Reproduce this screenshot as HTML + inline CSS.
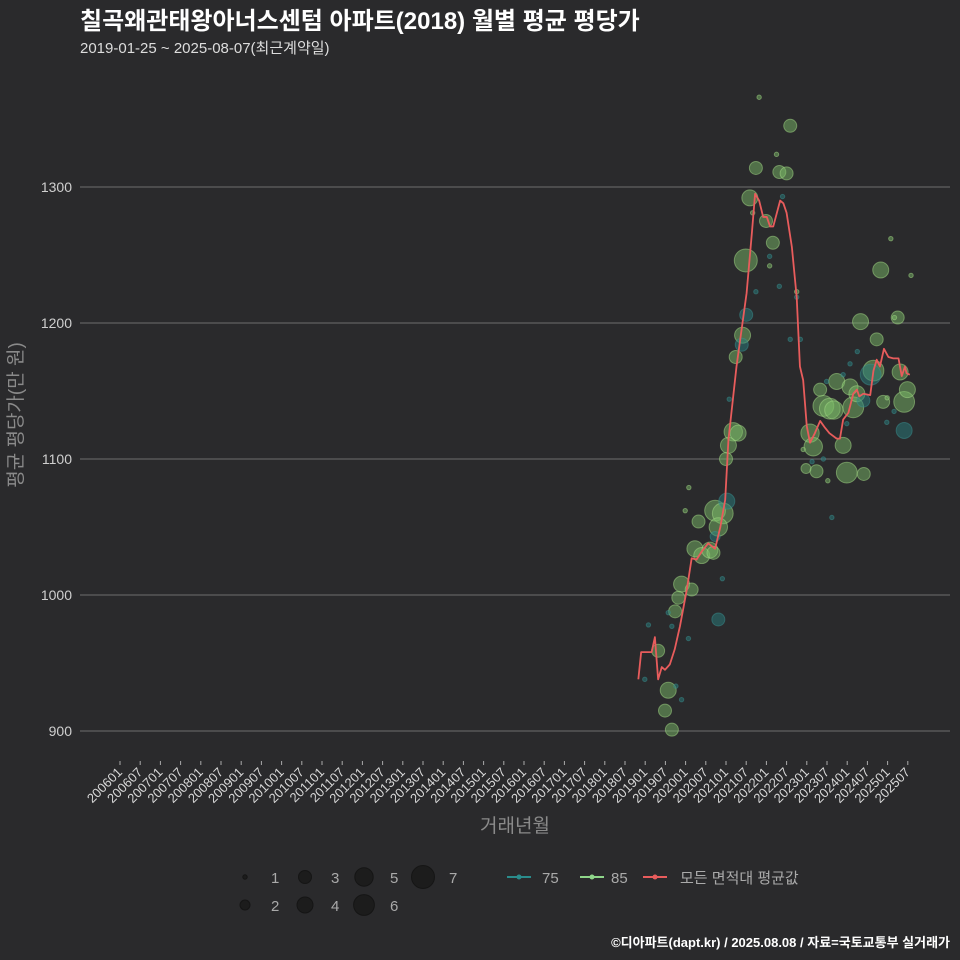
<!DOCTYPE html>
<html><head><meta charset="utf-8">
<style>
html,body{margin:0;padding:0;background:#2a2a2c;}
svg{display:block;font-family:"Liberation Sans","Noto Sans CJK KR",sans-serif;}
</style></head>
<body>
<svg id="chart" width="960" height="960" viewBox="0 0 960 960" xmlns="http://www.w3.org/2000/svg">
<rect width="960" height="960" fill="#2a2a2c"/>
<text x="80" y="29" fill="#fff" font-size="24" font-weight="bold">칠곡왜관태왕아너스센텀 아파트(2018) 월별 평균 평당가</text>
<text x="80" y="53" fill="#ddd" font-size="15">2019-01-25 ~ 2025-08-07(최근계약일)</text>
<g id="grid"></g>
<g id="xaxis"></g>
<g id="bubbles"></g>
<g id="line"></g>
<text transform="translate(22,415) rotate(-90)" text-anchor="middle" fill="#8a8a8a" font-size="19">평균 평당가(만 원)</text>
<text x="515" y="832" text-anchor="middle" fill="#8a8a8a" font-size="19">거래년월</text>
<g id="legend"></g>
<text x="950" y="947" text-anchor="end" fill="#fff" font-size="13" font-weight="bold">©디아파트(dapt.kr) / 2025.08.08 / 자료=국토교통부 실거래가</text>
</svg>
<script>
const yTicks=[900,1000,1100,1200,1300];
const lineYears=[2018.83,2018.90,2019.16,2019.24,2019.32,2019.41,2019.49,2019.61,2019.73,2019.86,2020.03,2020.15,2020.27,2020.40,2020.56,2020.73,2020.86,2020.98,2021.06,2021.26,2021.51,2021.64,2021.72,2021.82,2021.92,2022.01,2022.09,2022.17,2022.34,2022.42,2022.50,2022.63,2022.75,2022.83,2022.91,2023.00,2023.08,2023.20,2023.33,2023.45,2023.56,2023.74,2023.82,2023.90,2024.03,2024.15,2024.24,2024.30,2024.40,2024.57,2024.65,2024.73,2024.81,2024.91,2025.02,2025.14,2025.27,2025.35,2025.43,2025.47,2025.55];
const lineValues=[938,958,958,969,938,947,945,949,960,977,1004,1027,1026,1032,1038,1034,1050,1070,1114,1168,1222,1266,1295,1290,1278,1278,1271,1271,1290,1288,1281,1256,1219,1168,1158,1124,1112,1119,1128,1123,1119,1115,1115,1129,1134,1148,1151,1146,1148,1147,1165,1173,1168,1181,1175,1174,1174,1161,1168,1163,1162];
const bubbleYears=[2019.57,2019.49,2019.66,2019.32,2018.99,2019.08,2019.76,2019.90,2020.07,2019.66,2019.74,2019.82,2019.90,2020.15,2019.57,2020.81,2020.91,2020.23,2020.40,2020.60,2020.69,2020.32,2020.81,2020.73,2020.92,2021.02,2020.73,2019.99,2020.08,2021.00,2021.06,2021.18,2021.30,2021.24,2021.41,2021.39,2021.50,2021.08,2021.49,2021.74,2021.59,2021.66,2021.74,2021.82,2021.99,2022.16,2022.08,2022.08,2022.25,2022.32,2022.50,2022.40,2022.32,2022.59,2022.75,2022.75,2022.59,2022.84,2023.08,2023.16,2022.91,2023.33,2023.41,2023.57,2023.67,2023.74,2023.90,2024.07,2024.15,2024.24,2024.40,2023.99,2023.90,2023.49,2024.07,2024.25,2024.33,2024.73,2024.65,2024.58,2024.89,2024.99,2024.98,2025.16,2025.25,2025.17,2024.83,2025.08,2025.58,2025.31,2025.49,2025.41,2025.41,2023.41,2023.62,2023.52,2022.98,2023.24,2023.99,2024.41,2023.13];
const bubbleValues=[930,915,901,959,938,978,933,923,968,977,988,998,1008,1004,987,982,1012,1034,1029,1033,1031,1054,1050,1062,1060,1069,1043,1062,1079,1100,1110,1120,1119,1175,1191,1184,1206,1144,1246,1223,1292,1281,1314,1366,1275,1259,1249,1242,1324,1311,1310,1293,1227,1345,1223,1219,1188,1188,1119,1109,1107,1151,1139,1137,1136,1157,1162,1153,1138,1148,1143,1126,1110,1157,1170,1179,1201,1188,1165,1162,1142,1145,1127,1135,1204,1204,1239,1262,1235,1164,1151,1142,1121,1100,1057,1084,1093,1091,1090,1089,1098];
const bubbleCounts=[4,3,3,3,1,1,1,1,1,1,3,3,4,3,1,3,1,4,4,4,3,3,5,6,6,4,2,1,1,3,4,5,4,3,4,3,3,1,7,1,4,1,3,1,3,3,1,1,1,3,3,1,1,3,1,1,1,1,5,5,1,3,6,6,5,4,1,4,6,4,3,1,4,1,1,1,4,3,6,6,3,1,1,1,3,1,4,1,1,4,4,6,4,1,1,1,2,3,6,3,1];
const bubbleAreas=["85","85","85","85","75","75","75","75","75","75","85","85","85","85","75","75","75","85","85","85","85","85","85","85","85","75","75","85","85","85","85","85","85","85","85","75","75","75","85","75","85","85","85","85","85","85","75","85","85","85","85","75","75","85","85","75","75","75","85","85","85","85","85","85","85","85","75","85","85","85","75","75","85","75","75","75","85","85","85","75","85","85","75","75","85","85","85","85","85","85","85","85","75","75","75","85","85","85","85","85","75"];
const xTickStart=2006, xTickCount=40;
const NS="http://www.w3.org/2000/svg";
function xScale(yr){return 120+(yr-2006)*40.4;}
function yScale(v){return 731-(v-900)*1.36;}
function rScale(n){return [0,2.2,5,6.5,8,9.2,10.4,11.5][n];}
function mk(tag,attrs,parent){const e=document.createElementNS(NS,tag);for(const k in attrs)e.setAttribute(k,attrs[k]);parent.appendChild(e);return e;}
const grid=document.getElementById('grid');
yTicks.forEach(v=>{
  const l=mk('line',{x1:80,x2:950,y1:yScale(v),y2:yScale(v),stroke:'#6e6e6e','stroke-width':1},grid);
  
  
  const t=mk('text',{x:72,y:yScale(v)+5,'text-anchor':'end',fill:'#cfcfcf','font-size':14},grid);
  
  
  t.textContent=v;
});
const xa=document.getElementById('xaxis');
for(let i=0;i<xTickCount;i++){
  const yr=xTickStart+Math.floor(i/2), mo=i%2?'07':'01';
  const x=xScale(yr+(i%2?0.5:0));
  const tk=mk('line',{x1:x,x2:x,y1:761,y2:765,stroke:'#aaa','stroke-width':1},xa);
  
  
  const t=mk('text',{x:x+3,y:773,'text-anchor':'end',fill:'#d8d8d8','font-size':13,transform:`rotate(-45 ${x+3} 773)`},xa);
  
  
  t.textContent=yr+mo;
}
const bg=document.getElementById('bubbles');
const order=bubbleCounts.map((c,i)=>i).sort((a,b)=>bubbleCounts[b]-bubbleCounts[a]);
order.forEach(i=>{
  const g=bubbleAreas[i]==='85';
  const c=mk('circle',{cx:xScale(bubbleYears[i]),cy:yScale(bubbleValues[i]),r:rScale(bubbleCounts[i]),fill:g?'rgba(125,190,105,0.48)':'rgba(40,125,125,0.5)',stroke:g?'rgba(165,220,135,0.5)':'rgba(60,150,150,0.45)','stroke-width':1},bg);
  
  
});
const lg=document.getElementById('line');
const p=mk('polyline',{points:lineYears.map((y,i)=>xScale(y)+','+yScale(lineValues[i])).join(' '),fill:'none',stroke:'#e85c5c','stroke-width':1.8,'stroke-linejoin':'round'},lg);


const leg=document.getElementById('legend');
const sizeItems=[[1,245,877],[3,305,877],[5,364,877],[7,423,877],[2,245,905],[4,305,905],[6,364,905]];
sizeItems.forEach(([n,x,y])=>{
  const c=mk('circle',{cx:x,cy:y,r:rScale(n),fill:'#1c1c1c',stroke:'#151515'},leg);
  
  
  const t=mk('text',{x:x+26,y:y+6,fill:'#aaa','font-size':15},leg);
  
  
  t.textContent=n;
});
const lineItems=[['75','#2a8c8c',507,542],['85','#8fd68a',580,611],['모든 면적대 평균값','#e85c5c',643,680]];
lineItems.forEach(([lab,col,x,tx])=>{
  const l=mk('line',{x1:x,x2:x+24,y1:877,y2:877,stroke:col,'stroke-width':2},leg);
  
  
  const c=mk('circle',{cx:x+12,cy:877,r:2.5,fill:col},leg);
  
  
  const t=mk('text',{x:tx,y:883,fill:'#aaa','font-size':15},leg);
  
  
  t.textContent=lab;
});
</script>
</body></html>
